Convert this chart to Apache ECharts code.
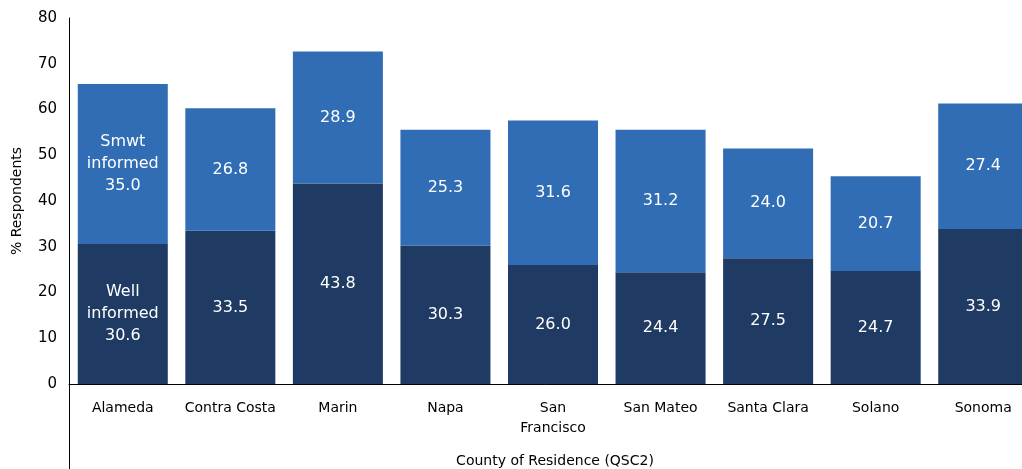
<!DOCTYPE html>
<html>
<head>
<meta charset="utf-8">
<script src="https://cdn.jsdelivr.net/npm/echarts@6/dist/echarts.min.js"></script>
<style>html,body{margin:0;padding:0;background:#fff}#c{width:1022px;height:469px}</style>
</head>
<body>
<div id="c"></div>
<script>
var categories = ['Alameda', 'Contra Costa', 'Marin', 'Napa', 'San\nFrancisco', 'San Mateo', 'Santa Clara', 'Solano', 'Sonoma'];
var wellInformed = [30.6, 33.5, 43.8, 30.3, 26.0, 24.4, 27.5, 24.7, 33.9];
var smwtInformed = [35.0, 26.8, 28.9, 25.3, 31.6, 31.2, 24.0, 20.7, 27.4];
var seriesNames = ['Well\ninformed', 'Smwt\ninformed'];

var FONT = 'DejaVu Sans';
var chart = echarts.init(document.getElementById('c'));

function labelFmt(name) {
  return function (p) {
    var v = p.value.toFixed(1);
    return p.dataIndex === 0 ? name + '\n' + v : v;
  };
}

chart.setOption({
  animation: false,
  textStyle: { fontFamily: FONT },
  grid: { left: 69, right: -15, top: 18, bottom: 85, containLabel: false, outerBoundsMode: 'none' },
  xAxis: {
    type: 'category',
    data: categories,
    axisLine: { lineStyle: { color: '#000', width: 1 } },
    axisTick: { show: false },
    axisLabel: { color: '#000', fontSize: 14, margin: 14, lineHeight: 20, fontFamily: FONT, interval: 0 },
    name: 'County of Residence (QSC2)',
    nameLocation: 'middle',
    nameGap: 70,
    nameTextStyle: { color: '#000', fontSize: 14, fontFamily: FONT, padding: [0, 0, 0, 4] }
  },
  yAxis: {
    type: 'value',
    min: 0, max: 80, interval: 10,
    axisLine: { show: true, lineStyle: { color: '#000', width: 1 } },
    axisTick: { show: false },
    splitLine: { show: false },
    axisLabel: { color: '#000', fontSize: 15, margin: 12, fontFamily: FONT },
    name: '% Respondents',
    nameLocation: 'middle',
    nameGap: 45,
    nameTextStyle: { color: '#000', fontSize: 14, fontFamily: FONT }
  },
  graphic: [{
    type: 'line',
    shape: { x1: 69.5, y1: 384, x2: 69.5, y2: 469 },
    style: { stroke: '#000', lineWidth: 1 }
  }],
  series: [{
    name: seriesNames[0],
    type: 'bar',
    stack: 'a',
    data: wellInformed,
    barCategoryGap: '16.3%',
    itemStyle: { color: '#1F3A63' },
    label: { show: true, position: 'inside', color: '#fff', fontSize: 16, lineHeight: 22, fontFamily: FONT, formatter: labelFmt('Well\ninformed') }
  }, {
    name: seriesNames[1],
    type: 'bar',
    stack: 'a',
    data: smwtInformed,
    barCategoryGap: '16.3%',
    itemStyle: { color: '#306DB4' },
    label: { show: true, position: 'inside', color: '#fff', fontSize: 16, lineHeight: 22, fontFamily: FONT, formatter: labelFmt('Smwt\ninformed') }
  }]
});
</script>
</body>
</html>
